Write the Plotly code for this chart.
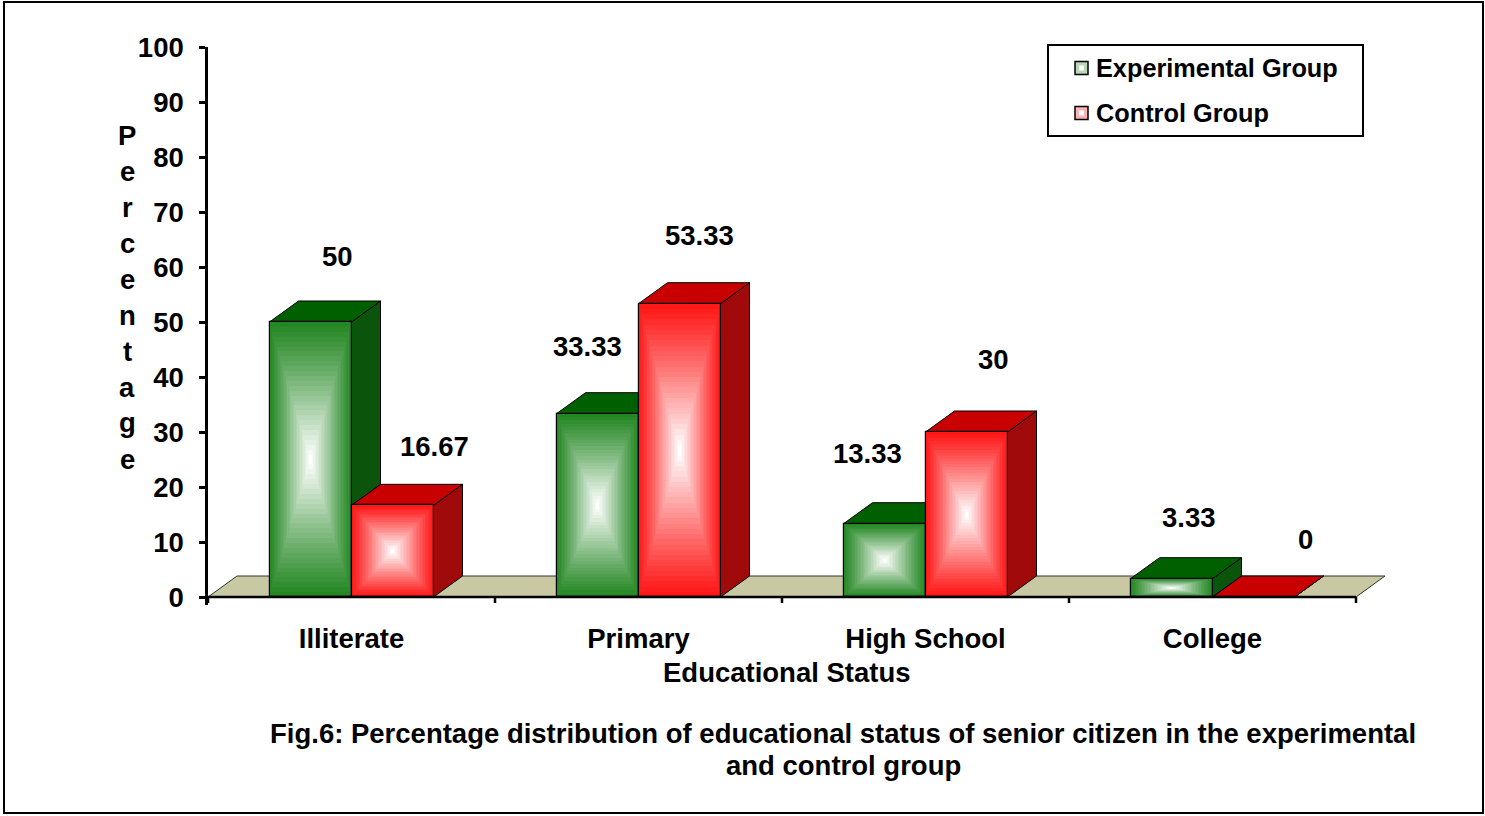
import plotly.graph_objects as go

# ---------------- data ----------------
categories = ["Illiterate", "Primary", "High School", "College"]
experimental = [50, 33.33, 13.33, 3.33]
control = [16.67, 53.33, 30, 0]
series_names = ["Experimental Group", "Control Group"]
y_ticks = list(range(0, 101, 10))
y_title = "Percentage"
x_title = "Educational Status"
caption_lines = ["Fig.6: Percentage distribution of educational status of senior citizen in the experimental",
                 "and control group"]

# ---------------- styles / geometry ----------------
FIG_W, FIG_H = 1485, 816
M_L, M_R, M_T, M_B = 208, 95, 47, 211
PLOT_W = FIG_W - M_L - M_R
PLOT_H = FIG_H - M_T - M_B
PX_PER_CAT = 287.0
PX_PER_UNIT = 5.5
X_RANGE = [-0.5, -0.5 + PLOT_W / PX_PER_CAT]
Y_RANGE = [100 - PLOT_H / PX_PER_UNIT, 100]
BAR_W = 82 / PX_PER_CAT
DX = 29 / PX_PER_CAT          # 3D depth offset (x units)
DY = 21 / PX_PER_UNIT         # 3D depth offset (y units)
FONT = "Liberation Sans, Arial, sans-serif"
FS = 27.5
FS_LEG = 25.3

STYLE = {
    "exp": dict(edge=(36, 135, 36), top="#006000", side="#0b540b", swatch="#b9d6b9"),
    "ctl": dict(edge=(255, 24, 24), top="#c80000", side="#a00a0a", swatch="#ffb4b4"),
}
FLOOR = "#c8c8a2"
N_LAYERS = 28

# label nudges (px)
LABEL_DX = {"exp": [27, -10, -17, 17], "ctl": [42, 20, 27, 52]}
LABEL_DY = {"exp": [66, 67, 70, 61], "ctl": [59, 68, 73, 58]}


def px_x(p):
    return (p - M_L) / PLOT_W


def px_y(p):
    return (FIG_H - M_B - p) / PLOT_H


def lerp(c, t):
    r, g, b = (int(round(ci + (255 - ci) * t)) for ci in c)
    return f"rgb({r},{g},{b})"


def bold(size):
    return dict(family=FONT, size=size, color="black", weight="bold")


fig = go.Figure()
shapes = []
annotations = []

xs = list(range(len(categories)))
series = [("exp", experimental, -BAR_W / 2), ("ctl", control, BAR_W / 2)]

# floor
shapes.append(dict(type="path", xref="x", yref="y", layer="below",
                   path=f"M{-0.5},0 L{-0.5 + DX},{DY} L{3.5 + DX},{DY} L{3.5},0 Z",
                   fillcolor=FLOOR, line=dict(color="#333333", width=1)))

# 3D side/top faces (drawn below traces: greens first, then reds)
for i in xs:
    for key, vals, off in series:
        v = vals[i]
        x0 = i + off - BAR_W / 2
        x1 = i + off + BAR_W / 2
        st = STYLE[key]
        shapes.append(dict(type="path", xref="x", yref="y", layer="below",
                           path=f"M{x1},0 L{x1},{v} L{x1 + DX},{v + DY} L{x1 + DX},{DY} Z",
                           fillcolor=st["side"], line=dict(color="black", width=1)))
        shapes.append(dict(type="path", xref="x", yref="y", layer="below",
                           path=f"M{x0},{v} L{x0 + DX},{v + DY} L{x1 + DX},{v + DY} L{x1},{v} Z",
                           fillcolor=st["top"], line=dict(color="black", width=1)))

# front faces with rectangular gradient (nested bars)
for key, vals, off in series:
    st = STYLE[key]
    xc = [i + off for i in xs]
    for k in range(N_LAYERS):
        f = k / N_LAYERS
        fig.add_trace(go.Bar(
            x=xc, y=[v * (1 - f) for v in vals], base=[v * f / 2 for v in vals],
            width=BAR_W * (1 - f), marker=dict(color=lerp(st["edge"], (k / (N_LAYERS - 1)) ** 1.1),
                                               line=dict(width=0)),
            showlegend=False, hoverinfo="skip"))
    fig.add_trace(go.Bar(
        x=xc, y=vals, width=BAR_W, name=series_names[0 if key == "exp" else 1],
        marker=dict(color="rgba(0,0,0,0)", line=dict(color="black", width=1.2)),
        showlegend=False, hovertemplate="%{y}<extra></extra>"))
    # value labels
    for i, v in enumerate(vals):
        annotations.append(dict(x=i + off, y=v, xref="x", yref="y", text=f"{v:g}",
                                showarrow=False, xshift=LABEL_DX[key][i], yshift=LABEL_DY[key][i],
                                font=bold(FS)))

# x axis line & boundary ticks
shapes.append(dict(type="line", xref="x", yref="y", layer="above", x0=-0.5, x1=3.5, y0=0, y1=0,
                   line=dict(color="black", width=2.5)))
for b in [-0.5, 0.5, 1.5, 2.5, 3.5]:
    shapes.append(dict(type="line", xref="x", yref="y", layer="above", x0=b, x1=b, y0=0,
                       y1=-6 / PX_PER_UNIT, line=dict(color="black", width=2.5)))

# y-axis title: stacked letters
for j, ch in enumerate(y_title):
    annotations.append(dict(x=px_x(127), y=px_y(135 + 36 * j), xref="paper", yref="paper",
                            text=ch, showarrow=False, xanchor="center", yanchor="middle",
                            font=bold(FS)))

# x-axis title
annotations.append(dict(x=px_x(787), y=px_y(672), xref="paper", yref="paper", text=x_title,
                        showarrow=False, xanchor="center", yanchor="middle", font=bold(FS)))
# caption (two centred lines)
for j, line in enumerate(caption_lines):
    annotations.append(dict(x=px_x(843), y=px_y(733 + 32 * j), xref="paper", yref="paper",
                            text=line, showarrow=False, xanchor="center", yanchor="middle",
                            font=bold(FS)))

# legend (manual)
shapes.append(dict(type="rect", xref="paper", yref="paper", layer="above",
                   x0=px_x(1048), x1=px_x(1363), y0=px_y(136), y1=px_y(45),
                   fillcolor="white", line=dict(color="black", width=2)))
for j, (key, name) in enumerate(zip(["exp", "ctl"], series_names)):
    cy = 68 + 45 * j
    shapes.append(dict(type="rect", xref="paper", yref="paper", layer="above",
                       x0=px_x(1075), x1=px_x(1088), y0=px_y(cy + 6.5), y1=px_y(cy - 6.5),
                       fillcolor=STYLE[key]["swatch"], line=dict(color="black", width=1.5)))
    shapes.append(dict(type="rect", xref="paper", yref="paper", layer="above",
                       x0=px_x(1079), x1=px_x(1084), y0=px_y(cy + 2.5), y1=px_y(cy - 2.5),
                       fillcolor="white", line=dict(width=0)))
    annotations.append(dict(x=px_x(1094), y=px_y(cy), xref="paper", yref="paper", text=name,
                            showarrow=False, xanchor="left", yanchor="middle", font=bold(FS_LEG)))

# outer frame
shapes.append(dict(type="rect", xref="paper", yref="paper", layer="above",
                   x0=px_x(4), x1=px_x(1483), y0=px_y(813), y1=px_y(2),
                   line=dict(color="black", width=2)))

fig.update_layout(
    width=FIG_W, height=FIG_H,
    margin=dict(l=M_L, r=M_R, t=M_T, b=M_B, pad=0),
    paper_bgcolor="white", plot_bgcolor="white",
    barmode="overlay", bargap=0,
    showlegend=False,
    shapes=shapes, annotations=annotations,
    font=dict(family=FONT, size=FS, color="black"),
    xaxis=dict(range=X_RANGE, tickvals=xs, ticktext=categories, showgrid=False, zeroline=False,
               showline=False, ticks="", ticklabelstandoff=14, tickfont=bold(FS)),
    yaxis=dict(range=Y_RANGE, tickvals=y_ticks, showgrid=False, zeroline=False, showline=True,
               linecolor="black", linewidth=2.5, ticks="outside", ticklen=6, tickwidth=2.5,
               tickcolor="black", ticklabelstandoff=10, tickfont=bold(FS)),
)

fig.write_html("out.html")
